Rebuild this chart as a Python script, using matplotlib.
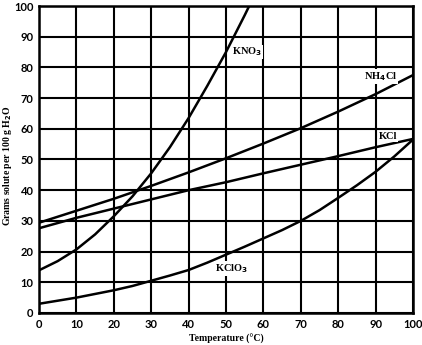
import numpy as np
import matplotlib.pyplot as plt

temps = [0, 10, 20, 30, 40, 50, 60, 70, 80, 90, 100]
kno3_t = [0, 5, 10, 15, 20, 25, 30, 35, 40, 45, 50, 55, 57]
kno3 = [13.9, 16.9, 20.7, 25.6, 31.5, 38.0, 45.5, 54.0, 63.5, 74.0, 85.0, 97.0, 102.0]
nh4cl = [29.4, 33.3, 37.2, 41.4, 45.8, 50.4, 55.2, 60.2, 65.6, 71.3, 77.5]
kcl = [27.6, 31.0, 34.0, 37.0, 40.0, 42.6, 45.5, 48.3, 51.1, 54.0, 56.7]
kclo3_t = [0, 5, 10, 15, 20, 25, 30, 35, 40, 45, 50, 55, 60, 65, 70, 75, 80, 85, 90, 95, 100]
kclo3 = [3.0, 4.0, 5.0, 6.2, 7.4, 8.8, 10.5, 12.2, 14.0, 16.4, 19.0, 21.6, 24.3, 27.0, 30.0,
         33.5, 37.5, 41.6, 46.0, 51.0, 56.5]

plt.rcParams['font.family'] = ['Liberation Serif', 'DejaVu Sans']

fig = plt.figure(figsize=(4.22, 3.45), dpi=100)
ax = fig.add_axes([0.0924, 0.0928, 0.8863, 0.8898])

for xs, ys in [(kno3_t, kno3), (temps, nh4cl), (temps, kcl), (kclo3_t, kclo3)]:
    ax.plot(xs, ys, color='black', lw=1.8, zorder=3, solid_capstyle='butt')

lbl = dict(fontsize=7.5, fontweight='bold', va='center', ha='left', zorder=4,
           bbox=dict(facecolor='white', edgecolor='none', pad=0.5))
ax.text(51.5, 85, 'KNO$_\\mathbf{3}$', **lbl)
ax.text(87, 77, 'NH$_\\mathbf{4}$Cl', **lbl)
ax.text(91, 57.5, 'KCl', **lbl)
ax.text(47, 14.5, 'KClO$_\\mathbf{3}$', **lbl)

ax.set_xlim(0, 100)
ax.set_ylim(0, 100)
ax.set_xticks(range(0, 101, 10))
ax.set_yticks(range(0, 101, 10))
ax.grid(True, color='black', lw=1.5)
ax.set_axisbelow(True)
ax.tick_params(length=0, pad=4, labelsize=8)
for t in ax.get_xticklabels() + ax.get_yticklabels():
    t.set_fontweight('bold')
    t.set_family(['Lato', 'DejaVu Sans'])
for s in ax.spines.values():
    s.set_linewidth(1.8)

ax.set_xlabel('Temperature (°C)', fontsize=7, fontweight='bold', labelpad=3)
ax.set_ylabel('Grams solute per 100 g H$_\\mathbf{2}$O', fontsize=7, fontweight='bold')
ax.yaxis.set_label_coords(-0.066, 0.48)

fig.savefig('out.png', dpi=100)
